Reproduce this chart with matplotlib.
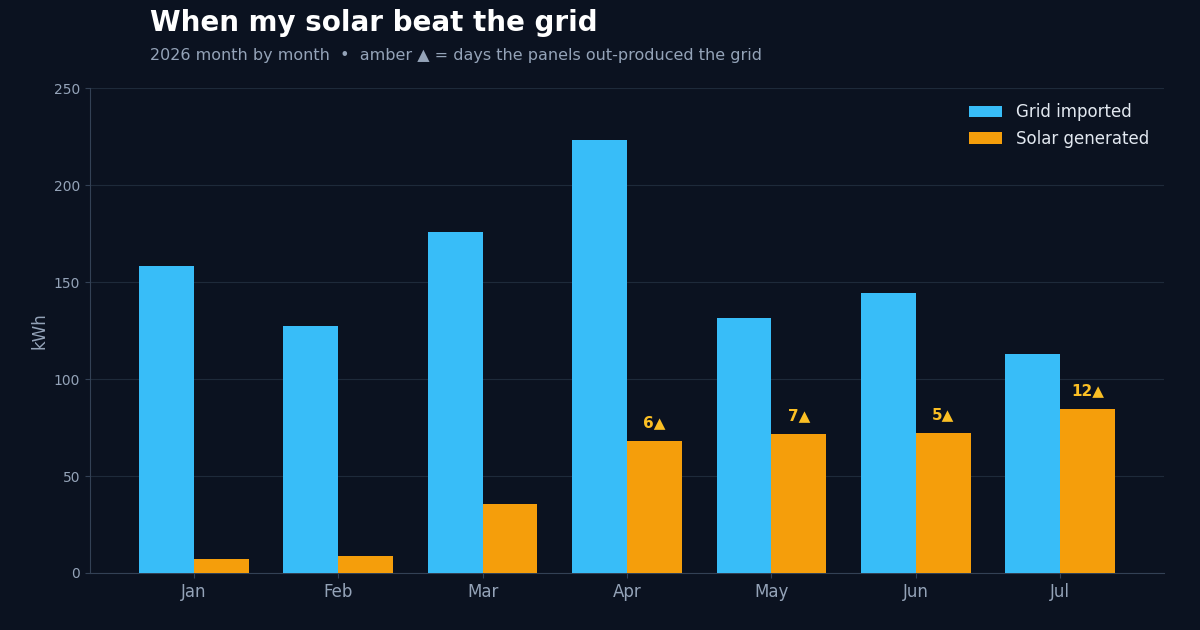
import numpy as np
import matplotlib
matplotlib.use("Agg")
import matplotlib.pyplot as plt

months = ["Jan", "Feb", "Mar", "Apr", "May", "Jun", "Jul"]
grid_kwh = [158.2, 127.3, 175.8, 223.2, 131.4, 144.3, 112.9]
solar_kwh = [7.2, 8.8, 35.6, 68.0, 71.6, 72.2, 84.5]
solar_wins = [0, 0, 0, 6, 7, 5, 12]   # days panels out-produced the grid

BG = "#0b1220"
GRID_C = "#38bdf8"
SOLAR_C = "#f59e0b"
AMBER = "#fbbf24"
MUTED = "#94a3b8"

fig = plt.figure(figsize=(12, 6.3), dpi=100, facecolor=BG)
ax = fig.add_axes([0.075, 0.0905, 0.895, 0.7695], facecolor=BG)

x = np.arange(len(months))
w = 0.38
ax.bar(x - w / 2, grid_kwh, w, color=GRID_C, label="Grid imported", zorder=3)
bars = ax.bar(x + w / 2, solar_kwh, w, color=SOLAR_C, label="Solar generated", zorder=3)

for b, n in zip(bars, solar_wins):
    if n:
        ax.annotate(f"{n}\u25b2", (b.get_x() + b.get_width() / 2, b.get_height()),
                    xytext=(0, 8), textcoords="offset points", ha="center", va="bottom",
                    color=AMBER, fontsize=11, fontweight="bold")

ax.set_ylim(0, 250)
ax.set_yticks([0, 50, 100, 150, 200, 250])
ax.set_xticks(x, months)
ax.grid(axis="y", color="#1e2a3a", linewidth=0.8, zorder=0)
ax.tick_params(axis="y", colors=MUTED, labelsize=10, color="#334155")
ax.tick_params(axis="x", colors=MUTED, labelsize=12, color="#334155")
for s in ["top", "right"]:
    ax.spines[s].set_visible(False)
for s in ["left", "bottom"]:
    ax.spines[s].set_color("#334155")
ax.set_ylabel("kWh", color=MUTED, fontsize=12)

leg = ax.legend(loc="upper right", frameon=False, fontsize=12)
for t in leg.get_texts():
    t.set_color("#e2e8f0")

fig.text(0.125, 0.963, "When my solar beat the grid", color="white",
         fontsize=20, fontweight="bold", va="center")
fig.text(0.125, 0.912, "2026 month by month  \u2022  amber \u25b2 = days the panels out-produced the grid",
         color=MUTED, fontsize=11.5, va="center")

fig.savefig("out.png", facecolor=BG)
